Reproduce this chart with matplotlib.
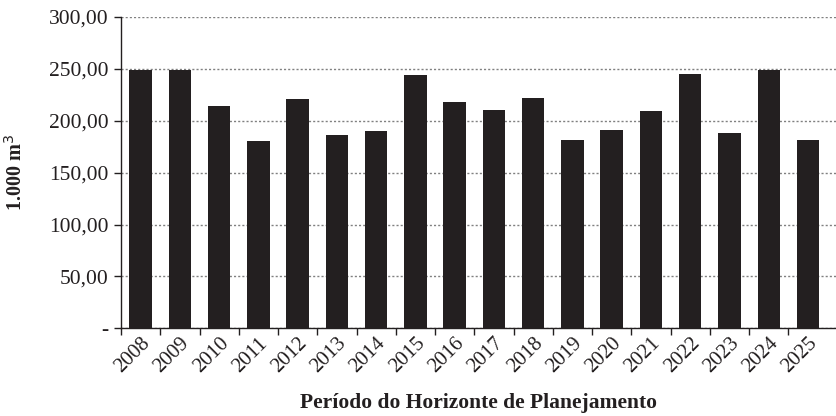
import matplotlib
matplotlib.use('Agg')
import matplotlib.pyplot as plt
import numpy as np

years = ['2008', '2009', '2010', '2011', '2012', '2013', '2014', '2015', '2016',
         '2017', '2018', '2019', '2020', '2021', '2022', '2023', '2024', '2025']
volume = [249.0, 249.0, 214.0, 180.5, 221.0, 186.3, 190.1, 244.1, 218.0,
          210.3, 222.0, 181.4, 191.1, 209.4, 245.0, 188.2, 249.0, 181.4]
yticks = [0, 50, 100, 150, 200, 250, 300]
ytick_labels = ['-', '50,00', '100,00', '150,00', '200,00', '250,00', '300,00']

ink = '#231F20'
plt.rcParams['font.family'] = ['Liberation Serif', 'DejaVu Serif']
plt.rcParams['text.color'] = ink

fig = plt.figure(figsize=(8.37, 4.16), dpi=100)
ax = fig.add_axes([121 / 837, (416 - 328.3) / 416, 716 / 837, 311.3 / 416])

x = np.arange(len(years))
ax.bar(x, volume, width=0.57, color=ink, zorder=3)

ax.set_xlim(-0.5, 17.74)
ax.set_ylim(0, 300)
ax.set_yticks(yticks)
ax.set_yticklabels(ytick_labels, fontsize=15.5, color=ink)
ax.set_xticks(x)
ax.set_xticklabels(years, fontsize=15, color=ink, rotation=45,
                   ha='right', va='top', rotation_mode='anchor')
ax.set_xticks(np.arange(len(years)) - 0.5, minor=True)
ax.tick_params(axis='x', which='major', length=0, pad=4)
ax.tick_params(axis='x', which='minor', length=5, width=1, color=ink, direction='out')
ax.tick_params(axis='y', length=5, width=1, color=ink, pad=4)

ax.grid(axis='y', linestyle=(0, (1.5, 1.5)), color='#808080', linewidth=1, zorder=0)
ax.set_axisbelow(True)

for s in ['top', 'right']:
    ax.spines[s].set_visible(False)
for s in ['left', 'bottom']:
    ax.spines[s].set_color(ink)
    ax.spines[s].set_linewidth(1)

ax.set_ylabel('1.000 m$^{3}$', fontsize=14.5, fontweight='bold', color=ink)
ax.yaxis.set_label_coords(-0.132, 0.5)
ax.set_xlabel('Período do Horizonte de Planejamento', fontsize=15.5, fontweight='bold', color=ink)
ax.xaxis.set_label_coords(0.5, -0.208)

plt.savefig('out.png', dpi=100)
